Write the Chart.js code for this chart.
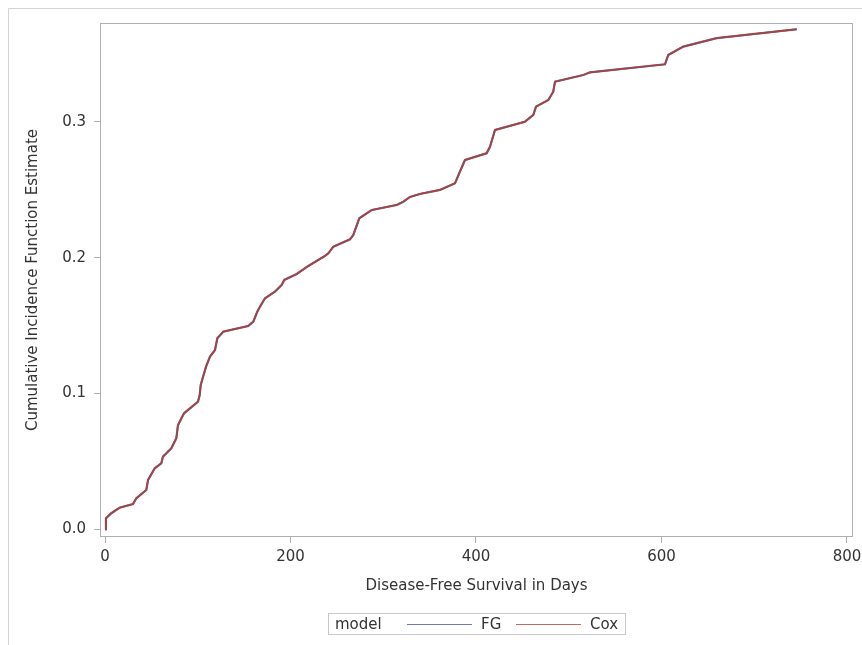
<!DOCTYPE html>
<html>
<head>
<meta charset="utf-8">
<script src="https://cdn.jsdelivr.net/npm/chart.js@4/dist/chart.umd.min.js"></script>
<style>
  html, body { margin: 0; padding: 0; background: #fff; }
  #wrap { position: relative; width: 862px; height: 645px; }
  #legend {
    position: absolute; left: 328px; top: 613px; width: 296px; height: 20px;
    border: 1px solid #c8c8c8; font-family: "DejaVu Sans", sans-serif; font-size: 15px;
    color: #333; box-sizing: content-box;
  }
  #legend span { position: absolute; top: 1px; line-height: 18px; white-space: nowrap; }
  #legend i { position: absolute; top: 10px; height: 1px; display: block; }
</style>
</head>
<body>
<div id="wrap">
  <canvas id="c" width="862" height="645"></canvas>
  <div id="legend"></div>
</div>
<script>
// ---- data ----
const days = [0, 1, 6.8, 15.8, 30.2, 33.7, 44.5, 46.4, 53.6, 60.7, 62.5, 71.5, 76.9, 78.7, 85.2,
  100.3, 102.1, 103.2, 108.9, 113.2, 118.6, 121.1, 127.5, 154.5, 159.9, 164.2, 167.1, 172.5,
  183.3, 190.5, 193.3, 206.7, 219.2, 237.2, 240.8, 246.2, 264.2, 267.7, 274.2, 287.5, 314.5,
  321.6, 328.8, 339.6, 361.2, 377.4, 382.0, 388.1, 411.5, 415.1, 420.5, 452.8, 461.8, 464.7,
  478.0, 483.3, 485.2, 515.7, 522.9, 603.8, 607.3, 623.5, 659.5, 745.8];
const fgCIF = [0, 0.0081, 0.0118, 0.0159, 0.0186, 0.0228, 0.0289, 0.0363, 0.0449, 0.0486, 0.0535,
  0.0596, 0.0670, 0.0768, 0.0854, 0.0940, 0.0989, 0.1063, 0.1197, 0.1271, 0.1320, 0.1406, 0.1455,
  0.1497, 0.1529, 0.1602, 0.1639, 0.1701, 0.1750, 0.1799, 0.1836, 0.1880, 0.1939, 0.2013, 0.2032,
  0.2081, 0.2135, 0.2167, 0.2290, 0.2351, 0.2388, 0.2412, 0.2447, 0.2469, 0.2499, 0.2548, 0.2622,
  0.2719, 0.2769, 0.2817, 0.2940, 0.3001, 0.3051, 0.3112, 0.3161, 0.3222, 0.3296, 0.3345, 0.3365,
  0.3424, 0.3493, 0.3554, 0.3616, 0.3682];
const coxCIF = [0, 0.0081, 0.0118, 0.0159, 0.0186, 0.0228, 0.0289, 0.0363, 0.0449, 0.0486, 0.0535,
  0.0596, 0.0670, 0.0768, 0.0854, 0.0940, 0.0989, 0.1063, 0.1197, 0.1271, 0.1320, 0.1406, 0.1455,
  0.1497, 0.1529, 0.1602, 0.1639, 0.1701, 0.1750, 0.1799, 0.1836, 0.1880, 0.1939, 0.2013, 0.2032,
  0.2081, 0.2135, 0.2167, 0.2290, 0.2351, 0.2388, 0.2412, 0.2447, 0.2469, 0.2499, 0.2548, 0.2622,
  0.2719, 0.2769, 0.2817, 0.2940, 0.3001, 0.3051, 0.3112, 0.3161, 0.3222, 0.3296, 0.3345, 0.3365,
  0.3424, 0.3493, 0.3554, 0.3616, 0.3682];
const seriesNames = ["FG", "Cox"];
const legendTitle = "model";
const xTicks = [0, 200, 400, 600, 800];
const yTicks = [0.0, 0.1, 0.2, 0.3];
const xTitle = "Disease-Free Survival in Days";
const yTitle = "Cumulative Incidence Function Estimate";

// ---- styling ----
const FONT = "'DejaVu Sans', sans-serif";
const TEXT = "#333333";
const AXIS = "#AAB0B5";
const COLORS = ["#6A6FA8", "#A5433F"];
const LEGEND_COLORS = ["#6C7AAE", "#BE6A62"];

const toPts = (xs, ys) => xs.map((x, i) => ({ x: x, y: ys[i] }));

const framePlugin = {
  id: 'frame',
  beforeDraw(chart) {
    const ctx = chart.ctx;
    ctx.save();
    ctx.strokeStyle = "#D3D3D3";
    ctx.lineWidth = 1;
    ctx.beginPath();
    ctx.moveTo(8.5, 645); ctx.lineTo(8.5, 8.5); ctx.lineTo(862, 8.5);
    ctx.stroke();
    ctx.restore();
  },
  afterDraw(chart) {
    const a = chart.chartArea, ctx = chart.ctx;
    ctx.save();
    ctx.strokeStyle = AXIS;
    ctx.lineWidth = 1;
    ctx.strokeRect(Math.round(a.left) + 0.5, Math.round(a.top) + 0.5,
      Math.round(a.right - a.left) - 1, Math.round(a.bottom - a.top) - 1);
    ctx.restore();
  }
};

new Chart(document.getElementById('c'), {
  type: 'line',
  data: {
    datasets: [
      { label: seriesNames[0], data: toPts(days, fgCIF), borderColor: COLORS[0], borderWidth: 2.2,
        pointRadius: 0, tension: 0, fill: false, order: 2 },
      { label: seriesNames[1], data: toPts(days, coxCIF), borderColor: COLORS[1], borderWidth: 1.8,
        pointRadius: 0, tension: 0, fill: false, order: 1 }
    ]
  },
  options: {
    responsive: false,
    animation: false,
    devicePixelRatio: 1,
    layout: { padding: { left: 0, right: 9, top: 23, bottom: 0 } },
    plugins: { legend: { display: false }, tooltip: { enabled: false } },
    scales: {
      x: {
        type: 'linear', min: -5.4, max: 806.5,
        afterBuildTicks: s => { s.ticks = xTicks.map(v => ({ value: v })); },
        afterFit: s => { s.height = 108; s.paddingLeft = 0; s.paddingRight = 0; },
        grid: { display: true, drawOnChartArea: false, drawTicks: true, tickLength: 6, color: AXIS },
        border: { display: false },
        ticks: { color: TEXT, font: { family: FONT, size: 15 }, padding: 5, maxRotation: 0,
          callback: v => String(v) },
        title: { display: true, text: xTitle, color: TEXT, font: { family: FONT, size: 15 },
          padding: { top: 0, bottom: 50 } }
      },
      y: {
        type: 'linear', min: -0.0057, max: 0.3728,
        afterBuildTicks: s => { s.ticks = yTicks.map(v => ({ value: v })); },
        afterFit: s => { s.width = 100; s.paddingTop = 0; s.paddingBottom = 0; },
        grid: { display: true, drawOnChartArea: false, drawTicks: true, tickLength: 6, color: AXIS },
        border: { display: false },
        ticks: { color: TEXT, font: { family: FONT, size: 15 }, padding: 8,
          callback: v => Number(v).toFixed(1) },
        title: { display: true, text: yTitle, color: TEXT, font: { family: FONT, size: 15 },
          padding: { top: 24, bottom: 0 } }
      }
    }
  },
  plugins: [framePlugin]
});

// ---- legend (HTML text) ----
(function () {
  const lg = document.getElementById('legend');
  const t = document.createElement('span');
  t.textContent = legendTitle; t.style.left = '6px';
  lg.appendChild(t);
  const lineLeft = [78, 187];
  const textLeft = [152, 261];
  seriesNames.forEach((n, i) => {
    const ln = document.createElement('i');
    ln.style.left = lineLeft[i] + 'px'; ln.style.width = '65px';
    ln.style.background = LEGEND_COLORS[i];
    lg.appendChild(ln);
    const s = document.createElement('span');
    s.textContent = n; s.style.left = textLeft[i] + 'px';
    lg.appendChild(s);
  });
})();
</script>
</body>
</html>
